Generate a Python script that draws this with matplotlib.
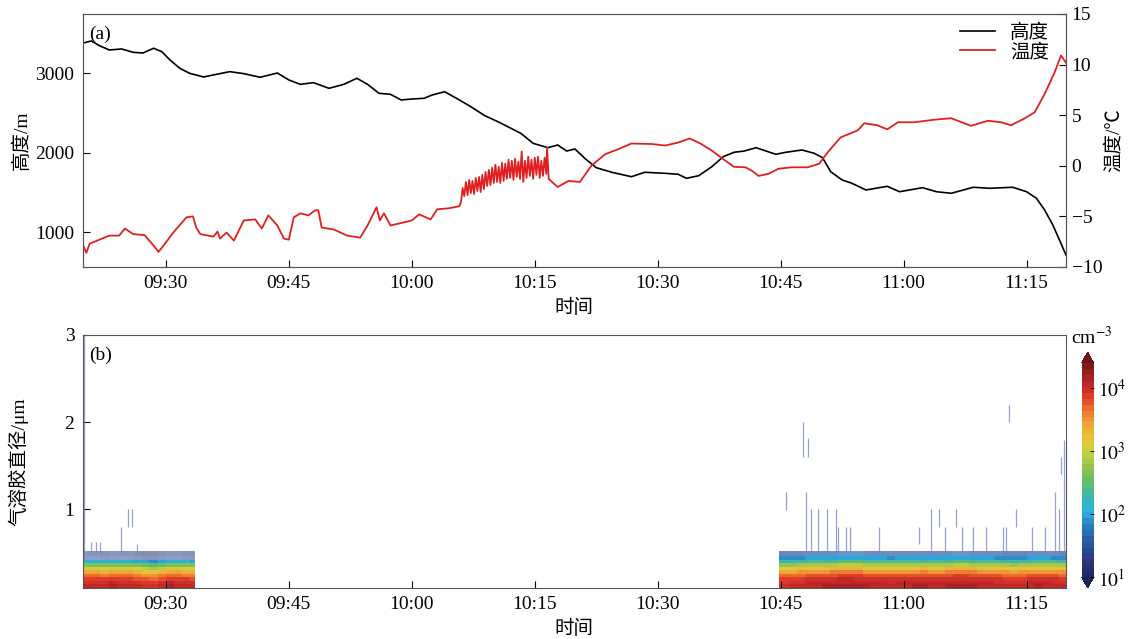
import numpy as np
import matplotlib.pyplot as plt
from matplotlib.colors import LinearSegmentedColormap, LogNorm

plt.rcParams['font.family'] = ['Liberation Serif', 'Noto Sans CJK SC']
plt.rcParams['mathtext.fontset'] = 'stix'
plt.rcParams['font.size'] = 14
plt.rcParams['axes.unicode_minus'] = True

# ---- flight track, time in minutes after 09:00 ----
alt_t = [19.8, 20.9, 21.9, 23.1, 24.6, 26.0, 27.2, 28.5, 29.5, 30.5, 31.7, 32.9,
         34.6, 36.2, 37.8, 39.5, 41.5, 43.6, 45.0, 46.4, 48.0, 49.9, 51.7, 53.3,
         54.6, 56.0, 57.4, 58.7, 60.0, 61.5, 62.5, 64.0, 65.6, 67.2, 68.9, 70.5,
         72.1, 73.3, 74.8, 76.6, 77.8, 78.9, 79.9, 81.1, 82.5, 84.4, 86.8, 88.4,
         90.9, 92.5, 93.5, 95.0, 96.6, 98.0, 99.3, 100.5, 102.0, 104.4, 105.6,
         107.6, 109.1, 110.1, 111.1, 112.5, 113.7, 115.4, 118.0, 119.5, 122.3,
         124.0, 125.8, 128.5, 130.5, 133.3, 135.0, 136.2, 137.2, 138.2, 139.1, 139.8]
alt_m = [3380, 3409, 3349, 3295, 3308, 3266, 3257, 3317, 3274, 3169, 3064, 3001,
         2955, 2989, 3022, 2997, 2951, 3005, 2917, 2862, 2883, 2812, 2862, 2938,
         2862, 2749, 2736, 2665, 2677, 2686, 2728, 2769, 2677, 2580, 2467, 2391,
         2307, 2244, 2118, 2063, 2097, 2021, 2047, 1929, 1811, 1753, 1697, 1753,
         1740, 1728, 1677, 1710, 1823, 1950, 2005, 2020, 2063, 1980, 2005,
         2034, 1992, 1937, 1760, 1656, 1614, 1530, 1576, 1508, 1559,
         1508, 1488, 1564, 1551, 1564, 1508, 1425, 1277, 1088, 878, 710]

temp_t = [19.8, 20.3, 20.7, 21.9, 23.1, 24.3, 25.0, 26.0, 27.4, 28.2, 29.1, 29.7,
          30.9, 32.5, 33.3, 33.7, 34.2, 35.8, 36.3, 36.6, 37.4, 38.3, 39.5, 40.9,
          41.7, 42.5, 43.6, 44.4, 45.0, 45.6, 46.4, 47.4, 48.2, 48.6, 49.0, 50.5,
          52.1, 53.7, 54.6, 55.7, 56.1, 56.6, 57.4, 59.0, 60.0, 60.9, 62.3, 63.1,
          64.5, 65.8,
          66.0, 66.2, 66.4, 66.6, 66.8, 67.0, 67.2, 67.4, 67.6, 67.8, 68.0, 68.2,
          68.4, 68.6, 68.8, 69.0, 69.2, 69.4, 69.6, 69.8, 70.0, 70.2, 70.4, 70.6,
          70.8, 71.0, 71.2, 71.4, 71.6, 71.8, 72.0, 72.2, 72.4, 72.6, 72.8, 73.0,
          73.2, 73.4, 73.6, 73.8, 74.0, 74.2, 74.4, 74.6, 74.8, 75.0, 75.2, 75.4,
          75.6, 75.8, 76.0, 76.2, 76.4, 76.5, 76.7,
          77.8, 79.1, 80.5, 81.9, 83.6, 85.2, 86.8, 89.3, 90.9, 92.5, 93.9, 95.2,
          96.6, 98.0, 99.3, 100.7, 101.5, 102.3, 103.5, 104.7, 106.3, 108.3, 109.7,
          110.7, 112.3, 114.4, 115.2, 116.8, 118.0, 119.3, 121.3, 123.7, 125.8,
          128.2, 130.3, 131.9, 133.1, 134.8, 136.0, 137.2, 138.4, 139.2, 139.8]
temp_c = [-7.7, -8.6, -7.7, -7.3, -6.9, -6.9, -6.2, -6.75, -6.85, -7.6, -8.5, -7.9,
          -6.6, -5.1, -5.0, -6.1, -6.75, -7.0, -6.5, -7.2, -6.6, -7.4, -5.4, -5.3,
          -6.2, -4.9, -5.9, -7.2, -7.3, -5.1, -4.7, -4.9, -4.4, -4.4, -6.1, -6.3,
          -6.9, -7.1, -5.9, -4.1, -5.4, -4.7, -5.9, -5.6, -5.4, -4.8, -5.3, -4.3,
          -4.2, -4.0,
          -3.6, -2.2, -3.0, -1.6, -2.9, -1.4, -2.7, -1.5, -2.8, -1.2, -2.5, -1.1,
          -2.6, -0.9, -2.3, -0.6, -2.0, -0.4, -1.9, -0.2, -1.7, 0.1, -1.6, -0.1,
          -1.7, 0.3, -1.5, 0.2, -1.3, 0.6, -1.2, 0.5, -1.4, 0.7, -1.1, 0.4,
          -1.3, 1.4, -1.6, 0.5, -1.2, 0.9, -1.0, 0.6, -1.3, 0.8, -0.9, 0.9,
          -1.2, 0.5, -1.0, 0.8, -0.8, 1.8, -1.3,
          -2.1, -1.5, -1.6, 0.0, 1.15, 1.65, 2.2, 2.15, 2.0, 2.3, 2.7, 2.2,
          1.5, 0.65, -0.1, -0.15, -0.5, -1.0, -0.8, -0.3, -0.15, -0.15, 0.2,
          1.3, 2.8, 3.5, 4.2, 4.0, 3.6, 4.3, 4.3, 4.55, 4.7,
          3.95, 4.45, 4.3, 4.0, 4.7, 5.3, 7.1, 9.2, 10.9, 10.2]

# ---- aerosol size spectra ----
diam_edges = [0.10, 0.14, 0.18, 0.22, 0.26, 0.30, 0.34, 0.38, 0.42, 0.46, 0.52]
# concentration per size bin (cm^-3), bottom to top
seg1_conc = [1.3e4, 1.0e4, 7.5e3, 4.5e3, 2.3e3, 1.1e3, 4.5e2, 1.2e2, 3e1, 2e1]
seg2_conc = [1.3e4, 1.05e4, 9e3, 6e3, 3.3e3, 1.7e3, 7e2, 2.3e2, 9e1, 4e1]
seg1_edges = [19.85, 21, 22, 23, 24, 25, 26, 27, 28, 29, 30, 31, 32, 33, 33.6]
seg1_scale = [1.0, 1.0, 0.95, 1.05, 1.0, 1.0, 0.9, 0.75, 0.7, 0.85, 1.1, 1.0, 0.95, 0.9]
seg2_edges = [104.8, 106, 107, 108, 109, 110, 111, 112, 113, 114, 115, 116, 117,
              118, 119, 120, 121, 122, 123, 124, 125, 126, 127, 128, 129, 130,
              131, 132, 133, 134, 135, 136, 137, 138, 139, 139.85]
seg2_scale = [0.8, 0.85, 0.9, 1.0, 1.0, 1.05, 1.1, 1.2, 1.2, 1.15, 1.05, 1.0, 1.0,
              0.95, 1.0, 1.0, 1.05, 1.1, 1.0, 1.0, 1.1, 1.15, 1.15, 1.1, 1.0,
              1.0, 0.95, 0.9, 0.85, 0.9, 1.0, 1.05, 1.0, 0.95, 0.9]
# sparse large-particle counts: time, lower and upper diameter
streak_t = [19.95, 20.9, 21.5, 22.0, 24.5, 25.4, 25.9, 26.5,
            105.6, 107.7, 108.3, 108.1, 108.7, 109.5, 110.6, 111.7, 112.0, 113.0,
            113.4, 117.0, 121.9, 123.3, 124.3, 125.0, 126.4, 127.1, 128.4, 130.0,
            132.1, 132.5, 132.8, 133.7, 135.7, 137.2, 138.5, 139.0, 139.2, 139.6]
streak_lo = [0.42, 0.5, 0.5, 0.5, 0.5, 0.8, 0.8, 0.5,
             0.99, 1.6, 1.6, 0.5, 0.5, 0.5, 0.5, 0.5, 0.5, 0.5,
             0.5, 0.5, 0.6, 0.5, 0.8, 0.5, 0.8, 0.5, 0.5, 0.5,
             0.5, 0.5, 2.0, 0.8, 0.5, 0.5, 0.5, 0.5, 1.4, 0.5]
streak_hi = [3.0, 0.62, 0.62, 0.62, 0.8, 1.0, 1.0, 0.6,
             1.2, 2.0, 1.82, 1.2, 1.0, 1.0, 1.0, 1.0, 0.8, 0.8,
             0.8, 0.8, 0.8, 1.0, 1.0, 0.8, 1.0, 0.8, 0.8, 0.8,
             0.8, 0.8, 2.2, 1.0, 0.8, 0.8, 1.2, 1.0, 1.6, 1.8]

tick_min = [30, 45, 60, 75, 90, 105, 120, 135]
tick_lab = ['09:30', '09:45', '10:00', '10:15', '10:30', '10:45', '11:00', '11:15']

cmap = LinearSegmentedColormap.from_list('conc', [
    (0.000, '#1e2b62'), (0.086, '#263f8a'), (0.171, '#2a5ea8'), (0.243, '#2d80c0'),
    (0.300, '#27b3e3'), (0.371, '#3fb6b0'), (0.457, '#6cbd5c'), (0.529, '#9ec64c'),
    (0.586, '#c8cf40'), (0.643, '#e6c83a'), (0.729, '#f0a035'), (0.800, '#eb6a2c'),
    (0.857, '#dd3a2a'), (0.929, '#b82426'), (1.000, '#7a1c1c')]).resampled(36)
cmap.set_over('#6e1616')
cmap.set_under('#1b2455')
norm = LogNorm(vmin=10, vmax=2.5e4)

fig = plt.figure(figsize=(11.28, 6.39), dpi=100)
xlim = (19.85, 139.8)
spine_c = '#555555'

# (a) altitude and temperature
ax = fig.add_axes([0.0733, 0.5822, 0.8717, 0.3959])
ax2 = ax.twinx()
l1, = ax.plot(alt_t, alt_m, color='black', lw=1.2, label='高度')
l2, = ax2.plot(temp_t, temp_c, color='#e02020', lw=1.3, label='温度')
ax.set_xlim(xlim)
ax.set_ylim(559, 3749)
ax.set_yticks([1000, 2000, 3000])
ax2.set_ylim(-10, 15)
ax2.set_yticks([-10, -5, 0, 5, 10, 15])
ax.set_xticks(tick_min)
ax.set_xticklabels(tick_lab)
ax.set_xlabel('时间')
ax.xaxis.set_label_coords(0.5, -0.126)
ax.set_ylabel('高度/m')
ax.yaxis.set_label_coords(-0.053, 0.5)
ax2.set_ylabel('温度/℃')
ax2.yaxis.set_label_coords(1.039, 0.5)
ax.tick_params(axis='both', direction='in', length=5, width=0.8, pad=6)
ax2.tick_params(axis='y', direction='in', length=5, width=0.8, pad=4)
for a in (ax, ax2):
    for s in a.spines.values():
        s.set_color(spine_c)
ax.text(0.007, 0.955, '(a)', transform=ax.transAxes, ha='left', va='top')
ax.legend(handles=[l1, l2], loc='upper right', frameon=False, handlelength=1.8,
          labelspacing=0.05, borderaxespad=0.1, bbox_to_anchor=(0.993, 1.0))

# (b) size distribution
bx = fig.add_axes([0.0733, 0.0803, 0.8717, 0.3955])
z1 = np.array(seg1_conc)[:, None] * np.array(seg1_scale)[None, :]
z2 = np.array(seg2_conc)[:, None] * np.array(seg2_scale)[None, :]
mesh = bx.pcolormesh(seg1_edges, diam_edges[:9], z1[:8], cmap=cmap, norm=norm)
bx.pcolormesh(seg1_edges, diam_edges[8:], z1[8:], cmap=cmap, norm=norm, alpha=0.55)
bx.pcolormesh(seg2_edges, diam_edges[:10], z2[:9], cmap=cmap, norm=norm)
bx.pcolormesh(seg2_edges, diam_edges[9:], z2[9:], cmap=cmap, norm=norm, alpha=0.7)
bx.vlines(streak_t, streak_lo, streak_hi, colors='#7080cc', lw=0.9, alpha=0.75)
bx.set_xlim(xlim)
bx.set_ylim(0.1, 3)
bx.set_yticks([1, 2, 3])
bx.set_xticks(tick_min)
bx.set_xticklabels(tick_lab)
bx.set_xlabel('时间')
bx.xaxis.set_label_coords(0.5, -0.128)
bx.set_ylabel('气溶胶直径/μm')
bx.yaxis.set_label_coords(-0.055, 0.5)
bx.tick_params(axis='both', direction='in', length=5, width=0.8, pad=6)
for s in bx.spines.values():
    s.set_color(spine_c)
bx.text(0.007, 0.955, '(b)', transform=bx.transAxes, ha='left', va='top')

cax = fig.add_axes([0.9589, 0.0798, 0.0106, 0.369])
cb = fig.colorbar(mesh, cax=cax, extend='both')
cb.set_ticks([10, 100, 1000, 10000])
cb.set_ticklabels([r'$10^{1}$', r'$10^{2}$', r'$10^{3}$', r'$10^{4}$'])
cb.ax.minorticks_off()
cb.ax.tick_params(direction='in', length=3, width=0.6, pad=3)
cb.outline.set_linewidth(0)
fig.text(0.968, 0.455, 'cm$^{-3}$', ha='center', va='bottom')

fig.savefig('out.png', dpi=100)
